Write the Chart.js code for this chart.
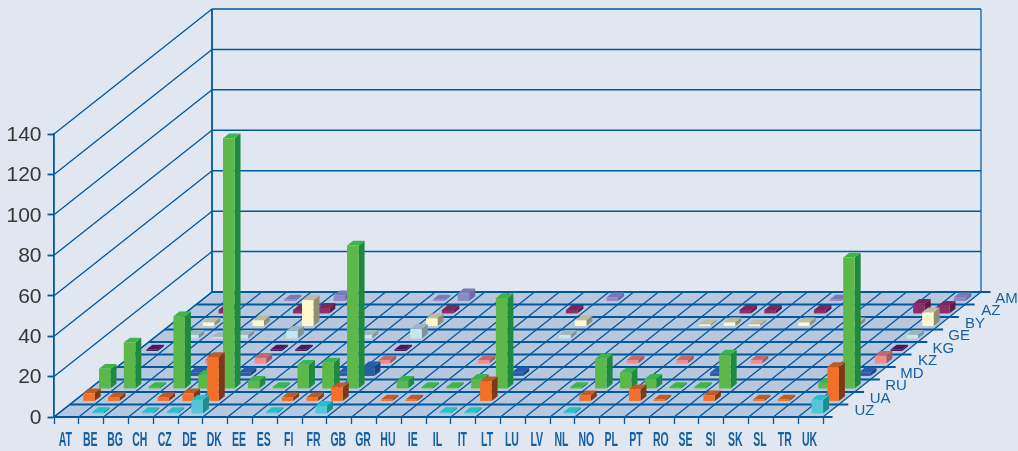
<!DOCTYPE html>
<html>
<head>
<meta charset="utf-8">
<title>Chart</title>
<style>
    html, body { margin: 0; padding: 0; background: #e0e7f1; }
    canvas { display: block; }
</style>
<script src="https://cdn.jsdelivr.net/npm/chart.js@4"></script>
</head>
<body>
<canvas id="chart" width="1018" height="451"></canvas>
<script>
const n = null;

const countries = ['AT', 'BE', 'BG', 'CH', 'CZ', 'DE', 'DK', 'EE', 'ES', 'FI', 'FR', 'GB', 'GR', 'HU', 'IE', 'IL',
    'IT', 'LT', 'LU', 'LV', 'NL', 'NO', 'PL', 'PT', 'RO', 'SE', 'SI', 'SK', 'SL', 'TR', 'UK'];

// front row first
const origins = ['UZ', 'UA', 'RU', 'MD', 'KZ', 'KG', 'GE', 'BY', 'AZ', 'AM'];

const uz = [n, 1, n, 1, 1, 7, n, n, 1, n, 4, n, n, n, n, 1, 1, n, n, n, 1, n, n, n, n, n, n, n, n, n, 7];
const ua = [4, 2, n, 2, 4, 22, n, n, 2, 2, 7, n, 1, 1, n, n, 10, n, n, n, 3, n, 6, 1, n, 3, n, 1, 1, n, 17];
const ru = [10, 23, 1, 36, 7, 124, 4, 1, 12, 13, 71, n, 4, 1, 1, 5, 45, n, n, 1, 15, 8, 5, 1, 1, 17, n, n, n, 3, 65];
const md = [n, n, n, 2, n, 2, n, n, n, 2, 5, n, n, n, n, n, 2, n, n, n, n, n, n, n, 2, n, n, n, n, n, 2];
const kz = [n, n, n, 2, n, 3, n, n, n, n, 2, n, n, n, 2, n, n, n, n, n, 2, n, 2, n, n, 2, n, n, n, n, 4];
const kg = [1, n, n, n, n, 1, 1, n, n, n, 1, n, n, n, n, n, n, n, n, n, n, n, n, n, n, n, n, n, n, n, 1];
const ge = [n, 2, 1, 2, n, 4, n, n, 2, n, 5, n, n, n, n, n, 2, n, n, n, n, n, n, n, n, n, n, n, n, n, 2];
const by = [n, 2, n, 3, n, 13, n, n, n, n, 4, n, n, n, n, n, 3, n, n, n, n, 1, 2, 1, n, 2, n, 2, n, n, 7];
const az = [n, 2, n, n, 2, 3, n, n, n, n, 2, n, n, n, n, 2, n, n, n, n, n, n, 2, 2, n, 2, n, n, n, 5, 4];
const am = [n, n, n, 1, n, 3, n, n, n, 1, 4, n, n, n, n, n, 2, n, n, n, n, n, n, n, n, 1, n, n, n, n, 2];

const values = [uz, ua, ru, md, kz, kg, ge, by, az, am];

const frontColors = ['#55c5d8', '#f47028', '#5cb848', '#2a5ca8', '#f58a8a', '#4a1a5c', '#c4e6ee', '#fdf9cc', '#8c2e68', '#8e88c6'];
const topColors = ['#1fc3c8', '#c05a26', '#3cb54a', '#2a5cab', '#c06a70', '#4a1a5c', '#9cb8be', '#bcbc9e', '#7a2858', '#7a78b8'];
const sideColors = ['#1f8d90', '#7e3a18', '#1e8a40', '#1c4480', '#a05c5c', '#2c1040', '#7c9298', '#8f8f78', '#601c48', '#6e6aa6'];

const lineColor = '#00589e';
const floorColor = '#b7c7de';

// oblique projection: one row back moves this far right and up
const ROW_DX = 15.8;
const ROW_DY = 12.5;
const BAR_DX = 6;
const BAR_DY = 4.8;

const BarController = Chart.registry.getController('bar');

// Bar controller that draws each bar as a box, pushed back according to its row
class Bar3dController extends BarController {
    draw() {
        const ctx = this.chart.ctx;
        const row = this.index;
        const dataset = this.getDataset();
        const shiftX = (row + 0.3) * ROW_DX + 2;
        const shiftY = (row + 0.3) * ROW_DY - 0.7;

        this.getMeta().data.forEach(bar => {
            if (bar.base - bar.y < 0.5) {
                return;
            }
            const left = bar.x - bar.width / 2 + shiftX;
            const right = left + bar.width;
            const top = bar.y - shiftY;
            const bottom = bar.base - shiftY;

            ctx.fillStyle = dataset.sideColor;
            ctx.beginPath();
            ctx.moveTo(right, top);
            ctx.lineTo(right + BAR_DX, top - BAR_DY);
            ctx.lineTo(right + BAR_DX, bottom - BAR_DY);
            ctx.lineTo(right, bottom);
            ctx.closePath();
            ctx.fill();

            ctx.fillStyle = dataset.topColor;
            ctx.beginPath();
            ctx.moveTo(left, top);
            ctx.lineTo(left + BAR_DX, top - BAR_DY);
            ctx.lineTo(right + BAR_DX, top - BAR_DY);
            ctx.lineTo(right, top);
            ctx.closePath();
            ctx.fill();

            ctx.fillStyle = dataset.backgroundColor;
            ctx.fillRect(left, top, bar.width, bottom - top);
        });
    }
}
Bar3dController.id = 'bar3d';
Bar3dController.defaults = BarController.defaults;
Bar3dController.overrides = BarController.overrides;
Chart.register(Bar3dController);

function line(ctx, x1, y1, x2, y2, width) {
    ctx.lineWidth = width;
    ctx.beginPath();
    ctx.moveTo(x1, y1);
    ctx.lineTo(x2, y2);
    ctx.stroke();
}

// floor, side wall and back wall
const roomPlugin = {
    id: 'room',
    beforeDraw(chart) {
        const ctx = chart.ctx;
        const xScale = chart.scales.x;
        const yScale = chart.scales.y;
        const left = chart.chartArea.left;
        const right = chart.chartArea.right;
        const bottom = yScale.getPixelForValue(0);
        const depthX = ROW_DX * origins.length;
        const depthY = ROW_DY * origins.length;
        const slot = (right - left) / countries.length;

        ctx.save();
        ctx.fillStyle = floorColor;
        ctx.beginPath();
        ctx.moveTo(left, bottom);
        ctx.lineTo(right, bottom);
        ctx.lineTo(right + depthX, bottom - depthY);
        ctx.lineTo(left + depthX, bottom - depthY);
        ctx.closePath();
        ctx.fill();

        ctx.strokeStyle = lineColor;

        // wall lines at every value tick
        yScale.ticks.forEach(tick => {
            const y = yScale.getPixelForValue(tick.value);
            line(ctx, left, y, left + depthX, y - depthY, 1.3);
            if (tick.value > 0) {
                line(ctx, left + depthX, y - depthY, right + depthX, y - depthY, 1.5);
            }
        });
        line(ctx, left + depthX, bottom - depthY, left + depthX, yScale.top - depthY, 1.8);
        line(ctx, right + depthX, bottom - depthY, right + depthX, yScale.top - depthY, 1.2);

        // floor lines across the rows, running a little past the right edge
        for (let row = 0; row <= origins.length; row++) {
            const x = row * ROW_DX;
            const y = bottom - row * ROW_DY;
            line(ctx, left + x, y, right + x + 9.5, y, 1.9);
        }

        // floor lines running back from each country slot
        for (let i = 0; i <= countries.length; i++) {
            const x = xScale.getPixelForValue(0) - slot / 2 + i * slot;
            line(ctx, x, bottom, x + depthX, bottom - depthY, 1.3);
        }
        ctx.restore();
    },
    afterDraw(chart) {
        const ctx = chart.ctx;
        const xScale = chart.scales.x;
        const bottom = chart.scales.y.getPixelForValue(0);

        ctx.save();
        ctx.fillStyle = '#175f9f';
        ctx.textBaseline = 'middle';
        ctx.textAlign = 'center';

        // condensed country labels
        ctx.font = 'bold 21px "Liberation Sans"';
        countries.forEach((label, i) => {
            ctx.save();
            ctx.translate(xScale.getPixelForValue(i) - 1, 440.5);
            ctx.scale(0.5, 1);
            ctx.fillText(label, 0, 0);
            ctx.restore();
        });

        // row labels along the right edge of the floor
        ctx.font = '15px "Liberation Sans"';
        origins.forEach((label, row) => {
            ctx.fillText(label, chart.chartArea.right + (row + 0.5) * ROW_DX + 33.5, bottom - (row + 0.5) * ROW_DY + 0.5);
        });
        ctx.restore();
    }
};

new Chart(document.getElementById('chart'), {
    type: 'bar3d',
    data: {
        labels: countries,
        datasets: origins.map((label, index) => ({
            label: label,
            data: values[index],
            backgroundColor: frontColors[index],
            topColor: topColors[index],
            sideColor: sideColors[index],
            grouped: false,
            barThickness: 11.5,
            clip: false
        }))
    },
    options: {
        responsive: false,
        animation: false,
        layout: {
            padding: { top: 134, right: 195, bottom: 0, left: 0 }
        },
        plugins: {
            legend: { display: false },
            title: { display: false },
            tooltip: { enabled: false }
        },
        scales: {
            x: {
                type: 'category',
                offset: true,
                afterFit: scale => { scale.height = 34; },
                border: { color: lineColor, width: 1.8 },
                grid: {
                    offset: true,
                    drawOnChartArea: false,
                    tickLength: 7,
                    tickColor: lineColor,
                    tickWidth: 1.3
                },
                ticks: { display: false, autoSkip: false }
            },
            y: {
                type: 'linear',
                min: 0,
                max: 140,
                afterFit: scale => { scale.width = 54; },
                border: { color: lineColor, width: 1.8 },
                grid: {
                    drawOnChartArea: false,
                    tickLength: 6.5,
                    tickColor: lineColor,
                    tickWidth: 1.8
                },
                ticks: {
                    stepSize: 20,
                    padding: 6,
                    labelOffset: 1,
                    color: '#363636',
                    font: { family: '"Liberation Sans"', size: 21 }
                }
            }
        }
    },
    plugins: [roomPlugin]
});
</script>
</body>
</html>
